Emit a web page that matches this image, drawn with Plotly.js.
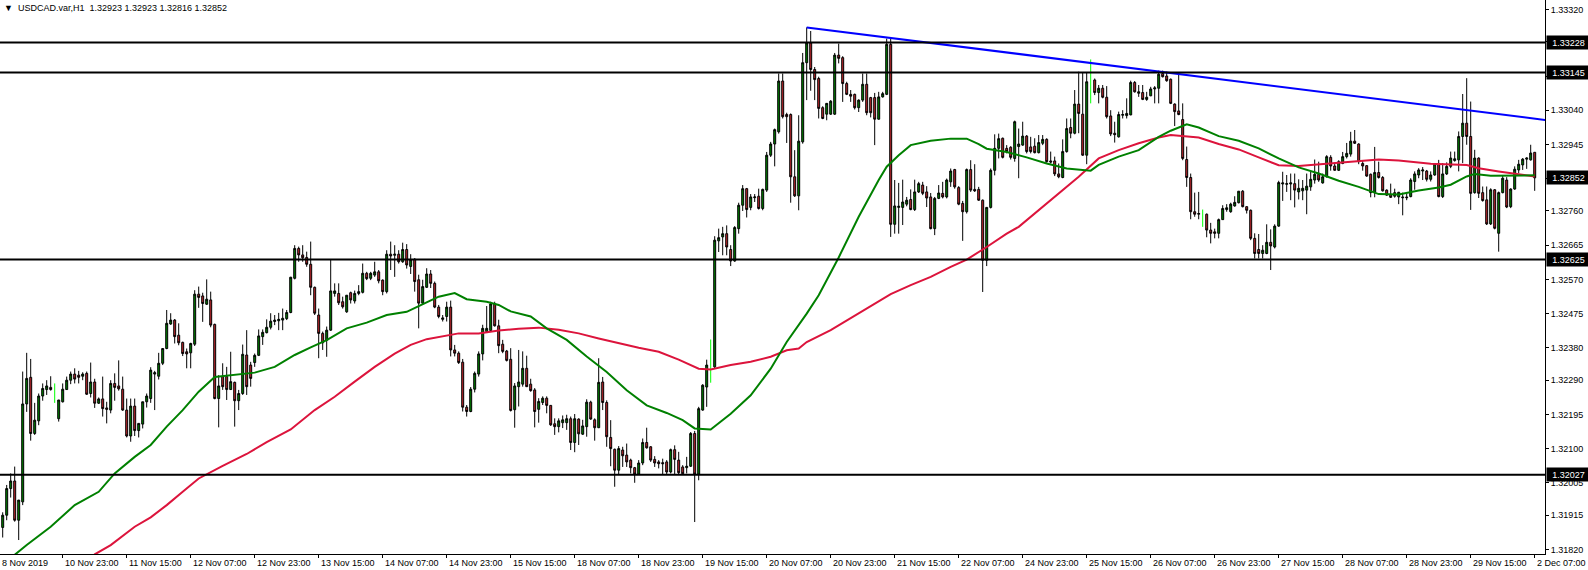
<!DOCTYPE html>
<html><head><meta charset="utf-8">
<script src="https://cdn.plot.ly/plotly-3.0.1.min.js"></script>
<style>html,body{margin:0;padding:0;background:#fff;}#chart{width:1588px;height:570px;}</style>
</head><body><div id="chart"></div>
<script>
const symbol = "USDCAD.var,H1";

const openP = [
1.31881,1.31915,1.31989,1.32010,1.31901,1.31952,1.32224,1.32298,1.32142,1.32177,
1.32246,1.32264,1.32270,1.32264,1.32183,1.32230,1.32264,1.32290,1.32307,1.32304,
1.32301,1.32309,1.32253,1.32285,1.32226,1.32238,1.32213,1.32207,1.32281,1.32274,
1.32265,1.32207,1.32135,1.32218,1.32150,1.32168,1.32230,1.32239,1.32307,1.32301,
1.32337,1.32378,1.32446,1.32457,1.32415,1.32395,1.32369,1.32366,1.32390,1.32529,
1.32524,1.32501,1.32513,1.32445,1.32239,1.32300,1.32300,1.32264,1.32284,1.32233,
1.32253,1.32360,1.32332,1.32339,1.32359,1.32411,1.32422,1.32437,1.32453,1.32455,
1.32457,1.32461,1.32478,1.32573,1.32656,1.32638,1.32631,1.32612,1.32548,1.32471,
1.32420,1.32401,1.32429,1.32531,1.32531,1.32508,1.32480,1.32533,1.32510,1.32531,
1.32534,1.32587,1.32573,1.32582,1.32591,1.32568,1.32536,1.32640,1.32637,1.32640,
1.32619,1.32653,1.32606,1.32626,1.32569,1.32504,1.32548,1.32585,1.32559,1.32493,
1.32459,1.32467,1.32493,1.32374,1.32365,1.32340,1.32215,1.32203,1.32265,1.32307,
1.32363,1.32425,1.32428,1.32502,1.32441,1.32390,1.32371,1.32348,1.32208,1.32272,
1.32279,1.32323,1.32279,1.32263,1.32209,1.32228,1.32240,1.32220,1.32169,1.32161,
1.32172,1.32172,1.32183,1.32117,1.32182,1.32140,1.32161,1.32229,1.32180,1.32158,
1.32285,1.32228,1.32131,1.32098,1.32040,1.32096,1.32082,1.32068,1.32047,1.32029,
1.32060,1.32117,1.32105,1.32070,1.32063,1.32061,1.32063,1.32035,1.32097,1.32068,
1.32049,1.32047,1.32051,1.32142,1.32029,1.32207,1.32271,1.32325,1.32327,1.32677,
1.32688,1.32697,1.32653,1.32621,1.32711,1.32776,1.32822,1.32770,1.32797,1.32801,
1.32767,1.32818,1.32915,1.32946,1.32980,1.33121,1.33028,1.33028,1.32855,1.32802,
1.32952,1.33172,1.33227,1.33153,1.33128,1.33047,1.33029,1.33029,1.33029,1.33193,
1.33186,1.33114,1.33084,1.33084,1.33047,1.33068,1.33112,1.33075,1.33075,1.33015,
1.33077,1.33084,1.33223,1.32723,1.32770,1.32770,1.32779,1.32792,1.32764,1.32813,
1.32832,1.32813,1.32799,1.32711,1.32795,1.32809,1.32799,1.32841,1.32875,1.32825,
1.32781,1.32758,1.32875,1.32820,1.32820,1.32790,1.32623,1.32770,1.32873,1.32934,
1.32962,1.32934,1.32937,1.32906,1.32939,1.32943,1.32968,1.32938,1.32940,1.32922,
1.32948,1.32959,1.32899,1.32899,1.32863,1.32853,1.32925,1.32992,1.32976,1.33057,
1.33029,1.32915,1.33119,1.33124,1.33089,1.33101,1.33076,1.33024,1.32976,1.32966,
1.33026,1.33025,1.33027,1.33117,1.33087,1.33089,1.33070,1.33080,1.33099,1.33101,
1.33142,1.33135,1.33126,1.33057,1.33038,1.33014,1.32903,1.32853,1.32758,1.32751,
1.32751,1.32751,1.32707,1.32702,1.32698,1.32736,1.32764,1.32758,1.32774,1.32783,
1.32815,1.32772,1.32762,1.32684,1.32653,1.32642,1.32642,1.32673,1.32660,1.32718,
1.32835,1.32834,1.32835,1.32836,1.32813,1.32816,1.32818,1.32827,1.32846,1.32862,
1.32838,1.32855,1.32909,1.32885,1.32873,1.32892,1.32911,1.32918,1.32954,1.32946,
1.32892,1.32886,1.32862,1.32811,1.32867,1.32853,1.32818,1.32806,1.32811,1.32799,
1.32799,1.32799,1.32800,1.32842,1.32860,1.32871,1.32871,1.32848,1.32860,1.32891,
1.32800,1.32863,1.32884,1.32900,1.32902,1.32967,1.33004,1.32967,1.32811,1.32907,
1.32811,1.32791,1.32724,1.32819,1.32698,1.32811,1.32846,1.32772,1.32821,1.32874,
1.32888,1.32904,1.32902,1.32923];

const highP = [
1.31923,1.31999,1.32031,1.32050,1.31957,1.32314,1.32366,1.32349,1.32227,1.32253,
1.32281,1.32290,1.32301,1.32281,1.32235,1.32281,1.32300,1.32314,1.32323,1.32316,
1.32312,1.32314,1.32339,1.32294,1.32242,1.32300,1.32230,1.32290,1.32309,1.32345,
1.32300,1.32239,1.32239,1.32239,1.32170,1.32230,1.32253,1.32326,1.32316,1.32366,
1.32378,1.32485,1.32476,1.32460,1.32448,1.32397,1.32378,1.32394,1.32540,1.32550,
1.32533,1.32570,1.32536,1.32447,1.32304,1.32337,1.32327,1.32369,1.32286,1.32263,
1.32389,1.32429,1.32341,1.32364,1.32431,1.32431,1.32459,1.32476,1.32471,1.32477,
1.32489,1.32485,1.32577,1.32665,1.32661,1.32665,1.32647,1.32675,1.32550,1.32489,
1.32425,1.32439,1.32624,1.32559,1.32559,1.32522,1.32526,1.32536,1.32539,1.32554,
1.32614,1.32591,1.32591,1.32619,1.32596,1.32570,1.32651,1.32675,1.32665,1.32651,
1.32672,1.32668,1.32640,1.32629,1.32583,1.32569,1.32601,1.32596,1.32564,1.32499,
1.32471,1.32508,1.32511,1.32388,1.32370,1.32349,1.32221,1.32271,1.32314,1.32370,
1.32444,1.32496,1.32508,1.32508,1.32458,1.32402,1.32374,1.32379,1.32282,1.32374,
1.32370,1.32358,1.32294,1.32268,1.32240,1.32245,1.32245,1.32221,1.32184,1.32184,
1.32192,1.32194,1.32189,1.32196,1.32184,1.32180,1.32237,1.32233,1.32184,1.32351,
1.32299,1.32234,1.32179,1.32100,1.32107,1.32105,1.32114,1.32072,1.32049,1.32068,
1.32128,1.32158,1.32107,1.32079,1.32068,1.32072,1.32068,1.32100,1.32109,1.32091,
1.32054,1.32077,1.32146,1.32149,1.32216,1.32279,1.32347,1.32403,1.32690,1.32711,
1.32716,1.32720,1.32665,1.32718,1.32783,1.32832,1.32824,1.32807,1.32807,1.32822,
1.32822,1.32924,1.32952,1.32989,1.33142,1.33142,1.33033,1.33031,1.32929,1.33026,
1.33199,1.33270,1.33260,1.33160,1.33133,1.33051,1.33060,1.33068,1.33199,1.33225,
1.33190,1.33119,1.33096,1.33086,1.33070,1.33142,1.33142,1.33077,1.33088,1.33091,
1.33091,1.33239,1.33239,1.32846,1.32838,1.32847,1.32799,1.32820,1.32847,1.32841,
1.32841,1.32829,1.32810,1.32799,1.32832,1.32841,1.32850,1.32878,1.32877,1.32829,
1.32788,1.32878,1.32901,1.32890,1.32827,1.32792,1.32771,1.32878,1.32973,1.32975,
1.32964,1.32943,1.32940,1.33011,1.32989,1.33008,1.32971,1.32966,1.32962,1.32971,
1.32971,1.32962,1.32925,1.32911,1.32892,1.32959,1.33017,1.33017,1.33096,1.33147,
1.33144,1.33144,1.33181,1.33128,1.33110,1.33110,1.33107,1.33040,1.33008,1.33036,
1.33040,1.33073,1.33122,1.33121,1.33110,1.33110,1.33091,1.33105,1.33107,1.33150,
1.33150,1.33147,1.33128,1.33059,1.33140,1.33059,1.32939,1.32864,1.32811,1.32813,
1.32764,1.32753,1.32727,1.32711,1.32739,1.32776,1.32779,1.32783,1.32801,1.32815,
1.32818,1.32773,1.32764,1.32698,1.32696,1.32665,1.32723,1.32709,1.32723,1.32844,
1.32869,1.32860,1.32864,1.32864,1.32848,1.32846,1.32864,1.32869,1.32903,1.32897,
1.32864,1.32915,1.32915,1.32894,1.32901,1.32924,1.32949,1.32980,1.32985,1.32948,
1.32901,1.32887,1.32864,1.32938,1.32897,1.32857,1.32820,1.32836,1.32822,1.32813,
1.32811,1.32809,1.32851,1.32870,1.32879,1.32882,1.32874,1.32870,1.32893,1.32902,
1.32893,1.32895,1.32925,1.32925,1.32981,1.33085,1.33129,1.33064,1.32930,1.32909,
1.32828,1.32828,1.32823,1.32821,1.32814,1.32860,1.32854,1.32823,1.32884,1.32902,
1.32907,1.32909,1.32944,1.32923];

const lowP = [
1.31853,1.31901,1.31964,1.31897,1.31846,1.31943,1.32202,1.32122,1.32138,1.32165,
1.32233,1.32249,1.32261,1.32227,1.32175,1.32228,1.32263,1.32279,1.32281,1.32281,
1.32290,1.32249,1.32242,1.32213,1.32224,1.32189,1.32170,1.32198,1.32233,1.32261,
1.32205,1.32131,1.32119,1.32135,1.32131,1.32156,1.32214,1.32227,1.32207,1.32292,
1.32332,1.32376,1.32444,1.32392,1.32387,1.32357,1.32323,1.32323,1.32385,1.32491,
1.32452,1.32499,1.32437,1.32237,1.32159,1.32263,1.32235,1.32263,1.32161,1.32207,
1.32249,1.32249,1.32272,1.32327,1.32357,1.32388,1.32420,1.32431,1.32443,1.32429,
1.32429,1.32457,1.32476,1.32570,1.32619,1.32619,1.32605,1.32526,1.32471,1.32351,
1.32374,1.32355,1.32427,1.32522,1.32499,1.32489,1.32477,1.32503,1.32503,1.32526,
1.32531,1.32568,1.32568,1.32577,1.32559,1.32526,1.32531,1.32596,1.32577,1.32614,
1.32616,1.32600,1.32585,1.32536,1.32434,1.32499,1.32546,1.32546,1.32490,1.32462,
1.32453,1.32453,1.32356,1.32356,1.32335,1.32203,1.32189,1.32201,1.32256,1.32300,
1.32345,1.32421,1.32425,1.32439,1.32365,1.32365,1.32342,1.32203,1.32158,1.32217,
1.32272,1.32271,1.32258,1.32159,1.32172,1.32221,1.32198,1.32163,1.32138,1.32145,
1.32157,1.32152,1.32096,1.32090,1.32110,1.32138,1.32133,1.32180,1.32122,1.32157,
1.32207,1.32105,1.32051,1.31994,1.32029,1.32049,1.32049,1.32031,1.32005,1.32027,
1.32054,1.32100,1.32063,1.32049,1.32045,1.32029,1.32029,1.32031,1.32029,1.32029,
1.32027,1.32031,1.32049,1.31896,1.32012,1.32205,1.32216,1.32283,1.32322,1.32646,
1.32637,1.32637,1.32607,1.32619,1.32697,1.32760,1.32742,1.32762,1.32785,1.32764,
1.32762,1.32813,1.32910,1.32884,1.32975,1.33017,1.32949,1.32783,1.32799,1.32762,
1.32947,1.33068,1.33094,1.33068,1.33017,1.33015,1.33012,1.33027,1.33027,1.33170,
1.33063,1.33082,1.33063,1.33042,1.33035,1.33063,1.33026,1.33020,1.32943,1.33014,
1.33075,1.33082,1.32688,1.32697,1.32697,1.32721,1.32773,1.32762,1.32760,1.32810,
1.32804,1.32771,1.32709,1.32693,1.32793,1.32795,1.32795,1.32827,1.32822,1.32776,
1.32677,1.32753,1.32813,1.32813,1.32788,1.32535,1.32607,1.32767,1.32859,1.32906,
1.32906,1.32920,1.32903,1.32897,1.32851,1.32941,1.32920,1.32920,1.32920,1.32920,
1.32943,1.32894,1.32892,1.32857,1.32851,1.32851,1.32922,1.32962,1.32973,1.32976,
1.32913,1.32890,1.33059,1.33082,1.33059,1.33073,1.33017,1.32968,1.32950,1.32964,
1.33017,1.33017,1.33026,1.33089,1.33077,1.33068,1.33066,1.33079,1.33059,1.33059,
1.33131,1.33119,1.33057,1.32996,1.33026,1.32901,1.32827,1.32737,1.32744,1.32737,
1.32716,1.32687,1.32670,1.32684,1.32684,1.32735,1.32758,1.32755,1.32772,1.32781,
1.32770,1.32753,1.32679,1.32628,1.32628,1.32628,1.32640,1.32596,1.32656,1.32716,
1.32788,1.32813,1.32790,1.32770,1.32792,1.32790,1.32751,1.32816,1.32836,1.32841,
1.32836,1.32853,1.32872,1.32872,1.32871,1.32890,1.32906,1.32911,1.32946,1.32890,
1.32872,1.32855,1.32798,1.32798,1.32850,1.32814,1.32802,1.32796,1.32797,1.32779,
1.32748,1.32790,1.32798,1.32819,1.32851,1.32846,1.32842,1.32842,1.32858,1.32798,
1.32796,1.32860,1.32879,1.32897,1.32870,1.32893,1.32944,1.32763,1.32808,1.32796,
1.32786,1.32721,1.32721,1.32709,1.32647,1.32809,1.32768,1.32768,1.32819,1.32865,
1.32874,1.32877,1.32900,1.32816];

const closeP = [
1.31915,1.31989,1.32010,1.31901,1.31957,1.32224,1.32295,1.32142,1.32179,1.32246,
1.32267,1.32274,1.32264,1.32264,1.32235,1.32265,1.32290,1.32307,1.32293,1.32298,
1.32307,1.32251,1.32285,1.32226,1.32238,1.32211,1.32209,1.32281,1.32270,1.32266,
1.32207,1.32135,1.32218,1.32150,1.32170,1.32230,1.32246,1.32318,1.32311,1.32337,
1.32378,1.32448,1.32457,1.32411,1.32394,1.32364,1.32363,1.32392,1.32529,1.32520,
1.32503,1.32515,1.32443,1.32239,1.32274,1.32272,1.32264,1.32286,1.32233,1.32253,
1.32362,1.32272,1.32295,1.32359,1.32413,1.32423,1.32437,1.32454,1.32457,1.32459,
1.32462,1.32478,1.32576,1.32656,1.32638,1.32630,1.32612,1.32548,1.32476,1.32420,
1.32394,1.32429,1.32538,1.32538,1.32505,1.32494,1.32526,1.32513,1.32531,1.32536,
1.32587,1.32572,1.32587,1.32591,1.32566,1.32536,1.32640,1.32635,1.32640,1.32619,
1.32653,1.32610,1.32625,1.32564,1.32504,1.32550,1.32585,1.32559,1.32493,1.32467,
1.32463,1.32493,1.32374,1.32365,1.32339,1.32215,1.32203,1.32265,1.32309,1.32363,
1.32434,1.32434,1.32502,1.32441,1.32386,1.32370,1.32345,1.32206,1.32274,1.32285,
1.32323,1.32272,1.32261,1.32203,1.32231,1.32240,1.32220,1.32166,1.32161,1.32177,
1.32180,1.32183,1.32117,1.32183,1.32141,1.32163,1.32229,1.32182,1.32158,1.32284,
1.32228,1.32133,1.32100,1.32040,1.32100,1.32080,1.32063,1.32047,1.32029,1.32060,
1.32117,1.32102,1.32068,1.32060,1.32058,1.32058,1.32035,1.32097,1.32070,1.32033,
1.32030,1.32051,1.32142,1.32029,1.32211,1.32276,1.32332,1.32325,1.32679,1.32686,
1.32697,1.32660,1.32621,1.32714,1.32776,1.32822,1.32764,1.32799,1.32799,1.32767,
1.32820,1.32915,1.32946,1.32986,1.33121,1.33022,1.33022,1.32855,1.32802,1.32954,
1.33172,1.33227,1.33153,1.33125,1.33045,1.33017,1.33059,1.33065,1.33193,1.33184,
1.33114,1.33084,1.33079,1.33047,1.33068,1.33112,1.33033,1.33033,1.33015,1.33077,
1.33086,1.33223,1.32723,1.32774,1.32773,1.32785,1.32790,1.32764,1.32813,1.32836,
1.32809,1.32796,1.32711,1.32795,1.32810,1.32799,1.32846,1.32871,1.32827,1.32779,
1.32758,1.32875,1.32818,1.32816,1.32790,1.32623,1.32770,1.32873,1.32934,1.32961,
1.32909,1.32925,1.32909,1.33008,1.32946,1.32968,1.32925,1.32925,1.32922,1.32950,
1.32959,1.32897,1.32896,1.32863,1.32855,1.32925,1.32989,1.32976,1.33057,1.33031,
1.32915,1.33119,1.33119,1.33089,1.33101,1.33076,1.33022,1.32974,1.32972,1.33028,
1.33028,1.33031,1.33117,1.33091,1.33091,1.33070,1.33076,1.33099,1.33102,1.33140,
1.33133,1.33122,1.33059,1.33036,1.33028,1.32906,1.32853,1.32758,1.32751,1.32753,
1.32751,1.32707,1.32698,1.32698,1.32736,1.32767,1.32769,1.32779,1.32784,1.32815,
1.32772,1.32762,1.32684,1.32642,1.32642,1.32651,1.32673,1.32663,1.32718,1.32839,
1.32838,1.32836,1.32838,1.32818,1.32823,1.32823,1.32829,1.32848,1.32862,1.32846,
1.32855,1.32911,1.32885,1.32873,1.32897,1.32911,1.32920,1.32954,1.32948,1.32897,
1.32885,1.32857,1.32811,1.32867,1.32853,1.32816,1.32804,1.32798,1.32801,1.32812,
1.32797,1.32797,1.32846,1.32863,1.32874,1.32874,1.32848,1.32860,1.32891,1.32800,
1.32863,1.32884,1.32907,1.32905,1.32967,1.33004,1.32967,1.32809,1.32907,1.32809,
1.32789,1.32724,1.32819,1.32712,1.32811,1.32851,1.32771,1.32821,1.32876,1.32890,
1.32904,1.32907,1.32921,1.32852];

// time axis labels (one every 16 hourly bars)
const tickBars = [-1,15,31,47,63,79,95,111,127,143,159,175,191,207,223,239,255,271,287,303,319,335,351,367,383];
const tickLabels = ["8 Nov 2019","10 Nov 23:00","11 Nov 15:00","12 Nov 07:00","12 Nov 23:00","13 Nov 15:00",
  "14 Nov 07:00","14 Nov 23:00","15 Nov 15:00","18 Nov 07:00","18 Nov 23:00","19 Nov 15:00","20 Nov 07:00",
  "20 Nov 23:00","21 Nov 15:00","22 Nov 07:00","24 Nov 23:00","25 Nov 15:00","26 Nov 07:00","26 Nov 23:00",
  "27 Nov 15:00","28 Nov 07:00","28 Nov 23:00","29 Nov 15:00","2 Dec 07:00"];

// price scale labels
const priceTicks = [1.31820,1.31915,1.32005,1.32100,1.32195,1.32290,1.32380,1.32475,1.32570,1.32665,
  1.32760,1.32850,1.32945,1.33040,1.33135,1.33230,1.33320];

// horizontal levels
const levels = [1.33228, 1.33145, 1.32625, 1.32027];

// moving averages (bar index, value)
const maFastBars = [1,3,6,12,18,24,28,33,37,41,45,49,53,58,63,68,73,77,81,86,91,96,101,104,109,113,116,121,124,127,132,136,141,146,151,156,161,166,170,173,177,182,187,192,196,201,204,209,214,219,221,224,227,232,237,241,244,246,251,256,261,266,269,272,274,279,284,289,292,296,299,304,309,314,319,324,329,334,339,344,349,354,359,362,366,368,372,377,383];
const maFastVals = [1.31785,1.31805,1.31832,1.31883,1.31943,1.31980,1.32031,1.32077,1.32110,1.32161,1.32207,1.32258,1.32299,1.32306,1.32311,1.32327,1.32360,1.32381,1.32401,1.32434,1.32450,1.32471,1.32480,1.32496,1.32522,1.32532,1.32515,1.32508,1.32499,1.32481,1.32467,1.32434,1.32402,1.32356,1.32313,1.32262,1.32220,1.32199,1.32179,1.32156,1.32153,1.32197,1.32248,1.32322,1.32396,1.32475,1.32526,1.32631,1.32744,1.32846,1.32883,1.32915,1.32943,1.32955,1.32961,1.32961,1.32946,1.32933,1.32924,1.32909,1.32892,1.32878,1.32876,1.32872,1.32888,1.32911,1.32929,1.32966,1.32983,1.33001,1.32992,1.32968,1.32955,1.32934,1.32906,1.32881,1.32864,1.32844,1.32827,1.32807,1.32806,1.32817,1.32825,1.32833,1.32856,1.32863,1.32858,1.32858,1.32859];

const maSlowBars = [21,23,27,33,37,41,45,49,55,61,66,72,78,83,88,93,98,102,106,110,114,119,124,129,134,139,144,149,154,159,164,169,174,177,182,187,192,196,199,201,207,212,217,222,227,232,237,241,246,251,254,259,264,269,274,279,284,289,292,296,299,304,309,314,319,324,329,334,339,344,349,357,366,369,374,379,383];
const maSlowVals = [1.31785,1.31806,1.31832,1.31883,1.31909,1.31943,1.31980,1.32017,1.32052,1.32085,1.32118,1.32153,1.32207,1.32244,1.32286,1.32327,1.32364,1.32388,1.32404,1.32413,1.32420,1.32420,1.32428,1.32433,1.32436,1.32430,1.32420,1.32406,1.32392,1.32380,1.32369,1.32347,1.32322,1.32320,1.32332,1.32341,1.32355,1.32373,1.32378,1.32396,1.32429,1.32463,1.32496,1.32529,1.32554,1.32577,1.32605,1.32625,1.32660,1.32697,1.32716,1.32763,1.32809,1.32855,1.32906,1.32929,1.32948,1.32964,1.32971,1.32968,1.32964,1.32946,1.32931,1.32909,1.32887,1.32885,1.32890,1.32894,1.32899,1.32903,1.32900,1.32891,1.32888,1.32879,1.32870,1.32863,1.32856];

// trend line (bar index, price)
const trendBars = [201, 385.6];
const trendVals = [1.33270, 1.33013];

const FONT = "Liberation Sans, Arial, sans-serif";
const X_MIN = -0.675, X_MAX = 385.575;

const bars = openP.map((_, i) => i);
const isDoji = i => openP[i] === closeP[i];
const mainIdx = bars.filter(i => !isDoji(i));
const dojiIdx = bars.filter(isDoji);

const dojiX = [], dojiY = [];
dojiIdx.forEach(i => { dojiX.push(i, i, null); dojiY.push(lowP[i], highP[i], null); });

const traces = [
  {
    type: 'candlestick',
    x: mainIdx,
    open: mainIdx.map(i => openP[i]),
    high: mainIdx.map(i => highP[i]),
    low: mainIdx.map(i => lowP[i]),
    close: mainIdx.map(i => closeP[i]),
    increasing: {line: {color: '#000', width: 1}, fillcolor: '#008000'},
    decreasing: {line: {color: '#000', width: 1}, fillcolor: '#c0282d'},
    whiskerwidth: 0,
    hoverinfo: 'skip'
  },
  {type: 'scatter', mode: 'lines', x: dojiX, y: dojiY, line: {color: '#00ff00', width: 1}, hoverinfo: 'skip', connectgaps: false},
  {type: 'scatter', mode: 'lines', x: maSlowBars, y: maSlowVals, line: {color: '#dc143c', width: 2}, hoverinfo: 'skip'},
  {type: 'scatter', mode: 'lines', x: maFastBars, y: maFastVals, line: {color: '#008000', width: 2}, hoverinfo: 'skip'},
  {type: 'scatter', mode: 'lines', x: trendBars, y: trendVals, line: {color: '#0000ff', width: 2}, hoverinfo: 'skip'}
];

const n = closeP.length;
const last = n - 1;

const annotations = [];
// header
annotations.push({
  xref: 'paper', yref: 'paper', x: 0, y: 1, xanchor: 'left', yanchor: 'top', xshift: 2, yshift: -1,
  showarrow: false, align: 'left',
  text: '\u25BC\u00a0\u00a0' + symbol + '\u00a0\u00a0' + [openP[last], highP[last], lowP[last], closeP[last]].map(v => v.toFixed(5)).join('\u00a0'),
  font: {family: FONT, size: 9, color: '#000'}
});
// time labels
tickBars.forEach((b, k) => {
  annotations.push({
    xref: 'x', yref: 'paper', x: Math.max(b, X_MIN), y: 0, xanchor: 'left', yanchor: 'top',
    xshift: 0, yshift: -2, showarrow: false,
    text: tickLabels[k], font: {family: FONT, size: 9, color: '#000'}
  });
});
// boxed price labels (levels + last close)
levels.concat([closeP[last]]).forEach(v => {
  annotations.push({
    xref: 'paper', yref: 'y', x: 1, y: v, xanchor: 'left', yanchor: 'middle', xshift: 1,
    showarrow: false, text: v.toFixed(5), bgcolor: '#000', borderpad: 1, width: 41, height: 11, align: 'center',
    font: {family: FONT, size: 9, color: '#fff'}
  });
});

const shapes = levels.map(v => ({
  type: 'line', xref: 'paper', yref: 'y', x0: 0, x1: 1, y0: v, y1: v,
  line: {color: '#000', width: 2}, layer: 'above'
}));

const layout = {
  width: 1588, height: 570,
  margin: {l: 0, r: 43, t: 0, b: 16, pad: 0},
  paper_bgcolor: '#fff', plot_bgcolor: '#fff',
  showlegend: false,
  font: {family: FONT, size: 9, color: '#000'},
  xaxis: {
    range: [X_MIN, X_MAX], showgrid: false, zeroline: false,
    showline: true, linecolor: '#000', linewidth: 1,
    ticks: 'outside', ticklen: 3, tickcolor: '#000', tickwidth: 1,
    tickmode: 'array', tickvals: tickBars.filter(b => b >= X_MIN), showticklabels: false,
    rangeslider: {visible: false}, fixedrange: true
  },
  yaxis: {
    side: 'right', range: [1.318072, 1.333461], showgrid: false, zeroline: false,
    showline: true, linecolor: '#000', linewidth: 1,
    ticks: 'outside', ticklen: 3, tickcolor: '#000', tickwidth: 1,
    tickmode: 'array', tickvals: priceTicks, ticktext: priceTicks.map(v => v.toFixed(5)),
    tickfont: {family: FONT, size: 9, color: '#000'}, fixedrange: true
  },
  shapes: shapes,
  annotations: annotations
};

Plotly.newPlot('chart', traces, layout, {staticPlot: true, displayModeBar: false});
</script>
</body></html>
